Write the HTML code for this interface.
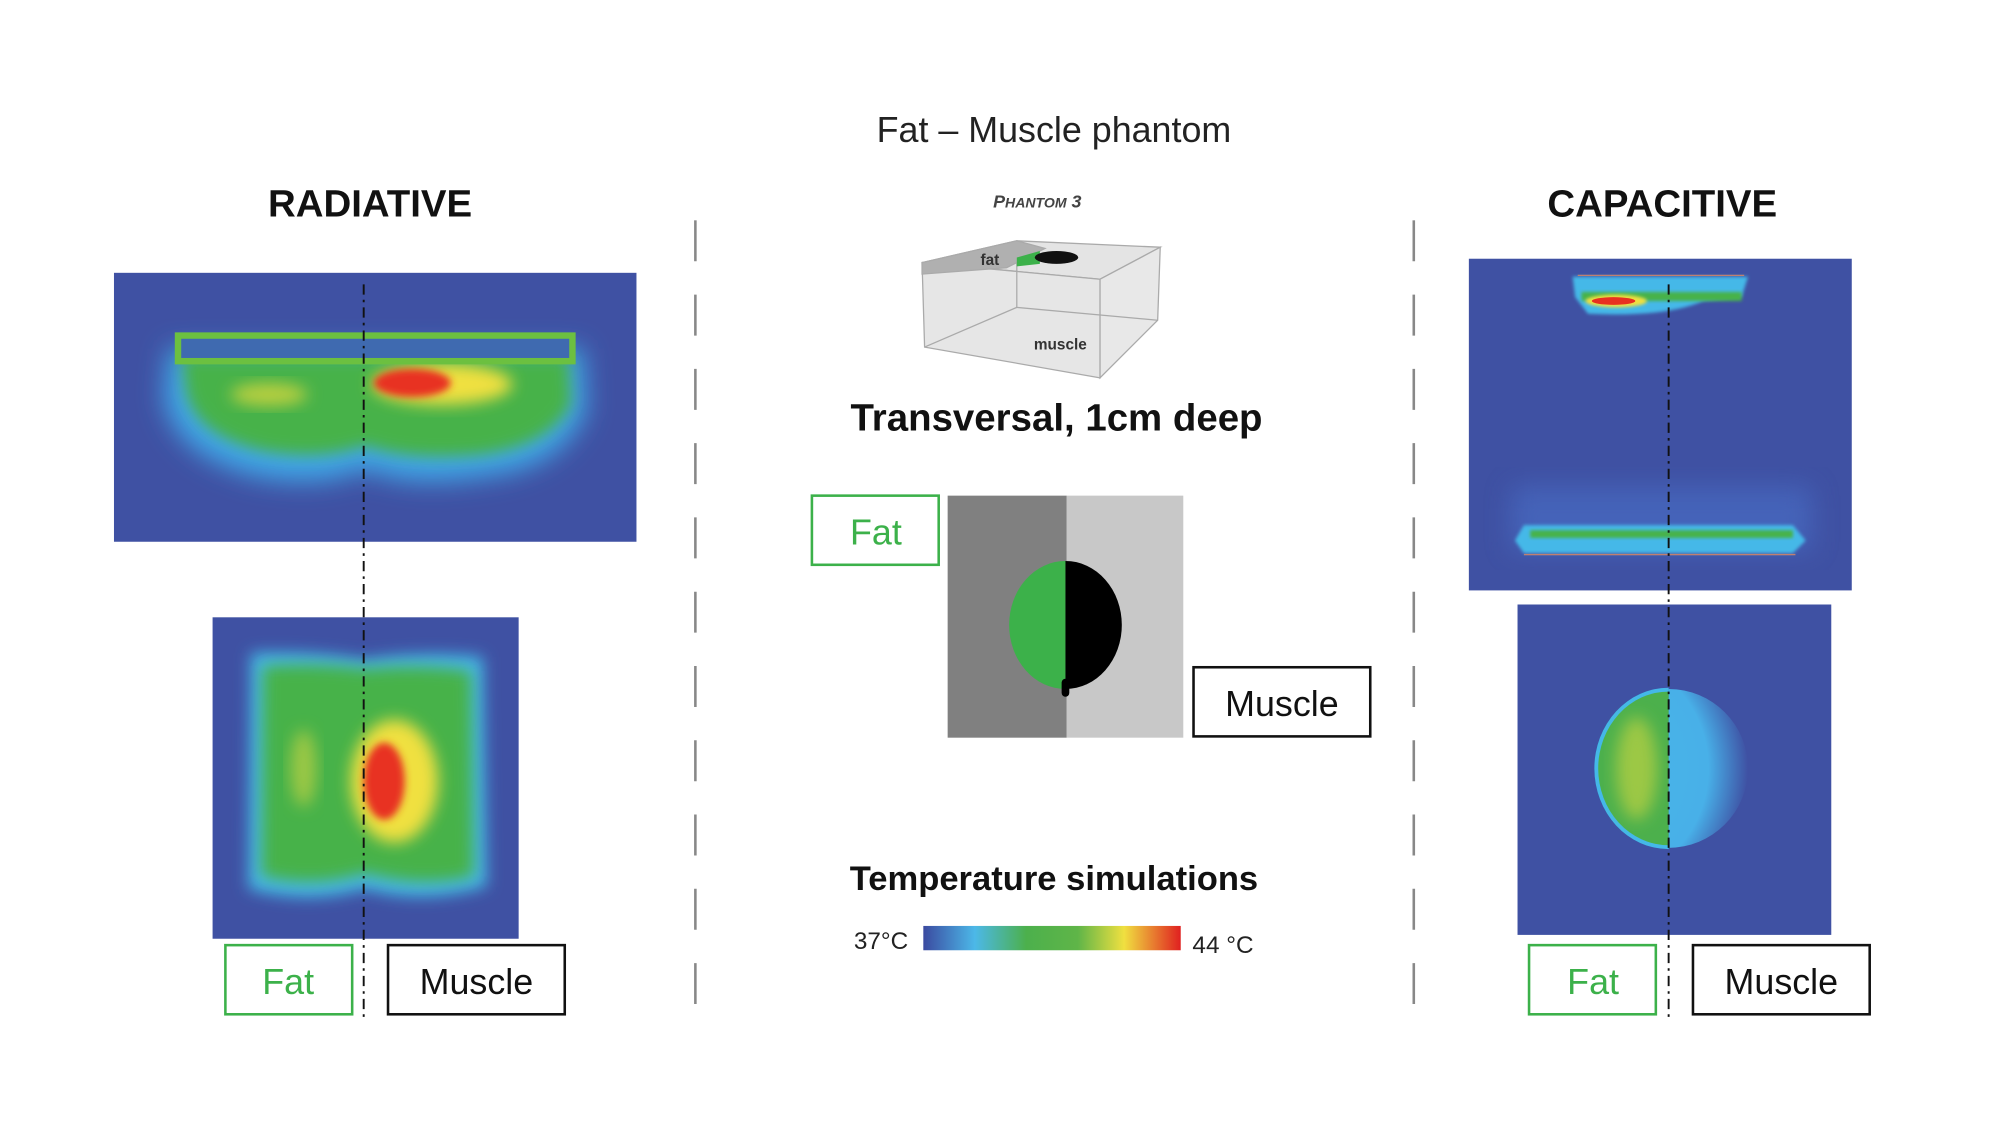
<!DOCTYPE html>
<html><head><meta charset="utf-8"><style>
html,body{margin:0;padding:0;background:#fff;}
svg{display:block;}
text{font-family:"Liberation Sans",sans-serif;}
</style></head><body>
<svg width="2008" height="1136" viewBox="0 0 1568 887" xmlns="http://www.w3.org/2000/svg">
<defs>
<filter id="b6" x="-30%" y="-30%" width="160%" height="160%"><feGaussianBlur stdDeviation="6"/></filter>
<filter id="b10" x="-30%" y="-30%" width="160%" height="160%"><feGaussianBlur stdDeviation="10"/></filter>
<filter id="b3" x="-30%" y="-30%" width="160%" height="160%"><feGaussianBlur stdDeviation="3"/></filter>
<filter id="b1" x="-30%" y="-30%" width="160%" height="160%"><feGaussianBlur stdDeviation="1.2"/></filter>
<linearGradient id="cb" x1="0" x2="1">
<stop offset="0" stop-color="#3b4aa0"/><stop offset="0.2" stop-color="#4cb8e8"/><stop offset="0.4" stop-color="#4cb04c"/><stop offset="0.6" stop-color="#5fb548"/><stop offset="0.78" stop-color="#f0e040"/><stop offset="1" stop-color="#e02020"/>
</linearGradient>
<radialGradient id="rg" cx="0" cy="0.5" r="1">
<stop offset="0" stop-color="#48b8ea"/><stop offset="0.75" stop-color="#48b0e8"/><stop offset="1" stop-color="#3f51a3"/>
</radialGradient>
<clipPath id="c1"><rect x="89" y="213" width="408" height="210"/></clipPath>
<clipPath id="c2"><rect x="166" y="482" width="239" height="251"/></clipPath>
<clipPath id="c3"><rect x="1147" y="202" width="299" height="259"/></clipPath>
<clipPath id="c4"><rect x="1185" y="472" width="245" height="258"/></clipPath>
<clipPath id="lh"><rect x="1200" y="500" width="103" height="200"/></clipPath>
<clipPath id="rh"><rect x="1303" y="500" width="103" height="200"/></clipPath>
</defs>

<text x="823" y="111" font-size="28" text-anchor="middle" fill="#222">Fat – Muscle phantom</text>
<text x="289" y="169" font-size="30" font-weight="bold" text-anchor="middle" fill="#111">RADIATIVE</text>
<text x="1298" y="169" font-size="30" font-weight="bold" text-anchor="middle" fill="#111">CAPACITIVE</text>

<line x1="543" y1="172" x2="543" y2="805" stroke="#888" stroke-width="2" stroke-dasharray="32,26"/>
<line x1="1104" y1="172" x2="1104" y2="805" stroke="#888" stroke-width="2" stroke-dasharray="32,26"/>

<!-- Radiative top -->
<rect x="89" y="213" width="408" height="210" fill="#3f51a3"/>
<g clip-path="url(#c1)">
<path d="M132,272 L455,272 L458,320 Q440,365 380,372 Q320,382 285,366 Q250,382 200,372 Q135,355 128,310 Z" fill="#3fa8e8" filter="url(#b10)"/>
<path d="M142,278 L444,278 L446,315 Q430,348 375,355 Q320,360 285,348 Q250,360 205,352 Q152,340 145,305 Z" fill="#46b24a" filter="url(#b6)"/>
<ellipse cx="210" cy="308" rx="30" ry="9" fill="#b8cf40" filter="url(#b6)"/>
<ellipse cx="345" cy="300" rx="55" ry="16" fill="#f0e040" filter="url(#b6)"/>
<ellipse cx="322" cy="299" rx="30" ry="11" fill="#e83020" filter="url(#b3)"/>
</g>
<rect x="139" y="262" width="308" height="20" fill="#3f6ab0" stroke="#6cc040" stroke-width="5"/>

<!-- Radiative bottom -->
<rect x="166" y="482" width="239" height="251" fill="#3f51a3"/>
<g clip-path="url(#c2)">
<path d="M196,510 Q240,508 285,515 Q330,508 377,513 L380,692 Q330,707 285,694 Q240,707 194,694 Z" fill="#44b8e8" filter="url(#b6)"/>
<path d="M205,520 Q245,517 285,522 Q330,518 368,524 L370,684 Q330,694 285,682 Q245,694 204,684 Z" fill="#46b24a" filter="url(#b6)"/>
<ellipse cx="237" cy="600" rx="10" ry="30" fill="#9cc844" filter="url(#b6)"/>
<ellipse cx="308" cy="610" rx="34" ry="48" fill="#f0e040" filter="url(#b6)"/>
<ellipse cx="300" cy="610" rx="16" ry="30" fill="#e83020" filter="url(#b3)"/>
</g>
<line x1="284" y1="222" x2="284" y2="797" stroke="#111" stroke-width="1.5" stroke-dasharray="8,4,2,4"/>
<rect x="176" y="738" width="99" height="54" fill="#fff" stroke="#3cb14a" stroke-width="2"/>
<text x="225" y="776" font-size="28" text-anchor="middle" fill="#3cb14a">Fat</text>
<rect x="303" y="738" width="138" height="54" fill="#fff" stroke="#111" stroke-width="2"/>
<text x="372" y="776" font-size="28" text-anchor="middle" fill="#111">Muscle</text>

<!-- Phantom 3 -->
<text x="810" y="162" font-size="14" font-style="italic" font-weight="bold" text-anchor="middle" fill="#444">P<tspan font-size="11">HANTOM</tspan> 3</text>
<g stroke="#aaa" stroke-width="1">
<polygon points="720,205 794,188 906,193 859,218" fill="#e4e4e4"/>
<polygon points="720,205 859,218 859,295 722,271" fill="#e0e0e0" fill-opacity="0.8"/>
<polygon points="859,218 906,193 904,250 859,295" fill="#e8e8e8"/>
<polyline points="794,188 794,240 904,250" fill="none"/>
<line x1="794" y1="240" x2="722" y2="271"/>
<polygon points="720,205 794,188 816,194 786,209 720,214" fill="#b0b0b0"/>
</g>
<path d="M794,201 L812,196 L812,206 L794,208Z" fill="#3cb14a"/>
<ellipse cx="825" cy="201" rx="17" ry="5" fill="#111"/>
<text x="773" y="207" font-size="12" font-weight="bold" text-anchor="middle" fill="#333">fat</text>
<text x="828" y="273" font-size="12" font-weight="bold" text-anchor="middle" fill="#333">muscle</text>

<text x="825" y="336" font-size="30" font-weight="bold" text-anchor="middle" fill="#111">Transversal, 1cm deep</text>

<rect x="634" y="387" width="99" height="54" fill="#fff" stroke="#3cb14a" stroke-width="2"/>
<text x="684" y="425" font-size="28" text-anchor="middle" fill="#3cb14a">Fat</text>
<rect x="740" y="387" width="93" height="189" fill="#808080"/>
<rect x="833" y="387" width="91" height="189" fill="#c8c8c8"/>
<path d="M832,438 A44,50 0 0 0 832,538 Z" fill="#3cb14a"/>
<path d="M832,438 A44,50 0 0 1 832,538 Z" fill="#000"/>
<rect x="829" y="530" width="6" height="14" rx="3" fill="#000"/>
<rect x="932" y="521" width="138" height="54" fill="#fff" stroke="#111" stroke-width="2"/>
<text x="1001" y="559" font-size="28" text-anchor="middle" fill="#111">Muscle</text>

<text x="823" y="695" font-size="27" font-weight="bold" text-anchor="middle" fill="#111">Temperature simulations</text>
<rect x="721" y="723" width="201" height="19" fill="url(#cb)"/>
<text x="688" y="741" font-size="19" text-anchor="middle" fill="#222">37°C</text>
<text x="955" y="744" font-size="19" text-anchor="middle" fill="#222">44 °C</text>

<!-- Capacitive top -->
<rect x="1147" y="202" width="299" height="259" fill="#3f51a3"/>
<g clip-path="url(#c3)">
<rect x="1180" y="380" width="235" height="50" fill="#4a70c8" filter="url(#b10)" opacity="0.6"/>
<path d="M1190,410 L1400,410 L1410,422 L1400,432 L1190,432 L1183,422 Z" fill="#44b8e8" filter="url(#b1)"/>
<rect x="1195" y="414" width="205" height="6" fill="#46b24a" filter="url(#b1)"/>
<path d="M1228,216 L1365,216 L1360,232 L1330,235 Q1300,248 1240,245 L1230,232 Z" fill="#44b8e8" filter="url(#b1)"/>
<rect x="1235" y="228" width="125" height="7" fill="#46b24a" filter="url(#b1)"/>
<ellipse cx="1262" cy="235" rx="24" ry="5" fill="#f0e040" filter="url(#b1)"/>
<ellipse cx="1260" cy="235" rx="17" ry="3" fill="#e83020"/>
</g>
<line x1="1232" y1="215" x2="1362" y2="215" stroke="#c08070" stroke-width="1"/>
<line x1="1190" y1="433" x2="1402" y2="433" stroke="#c08070" stroke-width="1"/>

<!-- Capacitive bottom -->
<rect x="1185" y="472" width="245" height="258" fill="#3f51a3"/>
<g clip-path="url(#c4)">
<ellipse cx="1303" cy="600" rx="62" ry="62" fill="url(#rg)" clip-path="url(#rh)"/>
<ellipse cx="1303" cy="600" rx="58" ry="63" fill="#44b8e8" clip-path="url(#lh)"/>
<ellipse cx="1303" cy="600" rx="55" ry="60" fill="#4cb04c" clip-path="url(#lh)"/>
<ellipse cx="1278" cy="600" rx="16" ry="40" fill="#9cc844" filter="url(#b6)"/>
</g>
<line x1="1303" y1="222" x2="1303" y2="797" stroke="#111" stroke-width="1.5" stroke-dasharray="8,4,2,4"/>
<rect x="1194" y="738" width="99" height="54" fill="#fff" stroke="#3cb14a" stroke-width="2"/>
<text x="1244" y="776" font-size="28" text-anchor="middle" fill="#3cb14a">Fat</text>
<rect x="1322" y="738" width="138" height="54" fill="#fff" stroke="#111" stroke-width="2"/>
<text x="1391" y="776" font-size="28" text-anchor="middle" fill="#111">Muscle</text>
</svg>
</body></html>
